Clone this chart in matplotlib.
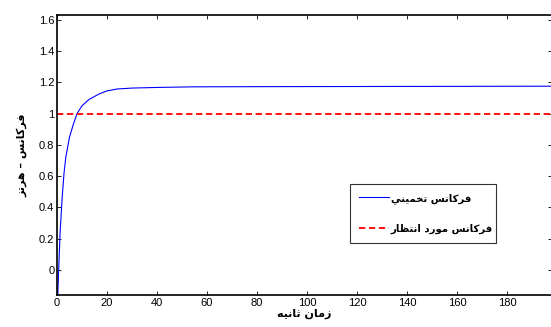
import matplotlib
matplotlib.use("Agg")
import matplotlib.pyplot as plt

# Arabic-script labels, written in visual order with presentation forms
# (matplotlib does no shaping or bidi on its own)
ylabel_txt = "\uFEB0\uFE97\uFEAE\uFEEB \u2013 \uFEB2\uFEE7\uFE8E\uFEDB\uFEAE\uFED3"
xlabel_txt = "\uFEEA\uFEF4\uFEE7\uFE8E\uFE9B \uFEE5\uFE8E\uFEE3\uFEAF"
legend_est = "\uFEF2\uFEE8\uFEF4\uFEE4\uFEA8\uFE97 \uFEB2\uFEE7\uFE8E\uFEDB\uFEAE\uFED3"
legend_ref = ("\uFEAD\uFE8E\uFEC8\uFE98\uFEE7\uFE8D \uFEA9\uFEAD\uFEEE\uFEE3 "
              "\uFEB2\uFEE7\uFE8E\uFEDB\uFEAE\uFED3")

# estimated frequency
t_est = [0.3, 0.7, 1.2, 2.0, 2.8, 3.5, 5, 6.5, 8, 10, 12.8, 16.8, 20, 24,
         30, 40, 55, 80, 120, 160, 198]
f_est = [-0.16, 0.02, 0.23, 0.45, 0.62, 0.72, 0.85, 0.93, 1.0, 1.05, 1.09,
         1.125, 1.145, 1.157, 1.163, 1.167, 1.171, 1.172, 1.173, 1.174, 1.175]

# expected frequency
t_ref = [0, 198]
f_ref = [1.0, 1.0]

x_ticks = [0, 20, 40, 60, 80, 100, 120, 140, 160, 180]
y_ticks = [0, 0.2, 0.4, 0.6, 0.8, 1.0, 1.2, 1.4, 1.6]
y_tick_labels = ["0", "0.2", "0.4", "0.6", "0.8", "1", "1.2", "1.4", "1.6"]

plt.rcParams['font.family'] = ['Liberation Sans', 'DejaVu Sans']

fig = plt.figure(figsize=(5.51, 3.27), dpi=100)
ax = fig.add_axes([0.1035, 0.098, 0.8985, 0.856])

ax.plot(t_est, f_est, color="blue", linewidth=0.8, label=legend_est)
ax.plot(t_ref, f_ref, color="red", linestyle=(0, (3.5, 2)), linewidth=1.3,
        label=legend_ref)

ax.set_xlim(0, 198)
ax.set_ylim(-0.16, 1.63)
ax.set_xticks(x_ticks)
ax.set_yticks(y_ticks)
ax.set_yticklabels(y_tick_labels)
ax.tick_params(direction="in", top=True, right=True, length=3, width=0.6,
               labelsize=8, pad=2)

for s in ax.spines.values():
    s.set_linewidth(1.2)

ax.set_xlabel(xlabel_txt, fontsize=8, fontweight="bold",
              family=["DejaVu Sans"], labelpad=1)
ax.set_ylabel(ylabel_txt, fontsize=8, fontweight="bold",
              family=["DejaVu Sans"], labelpad=8)

leg = ax.legend(loc="lower left", bbox_to_anchor=(0.591, 0.186, 0.296, 0.221),
                mode="expand", fancybox=False, edgecolor="black",
                prop={"family": "DejaVu Sans", "weight": "bold", "size": 7.3},
                handlelength=3.0, borderaxespad=0, labelspacing=1.95,
                borderpad=0.9, handletextpad=0.15)
leg.get_frame().set_linewidth(0.8)

fig.savefig("out.png", dpi=100)
